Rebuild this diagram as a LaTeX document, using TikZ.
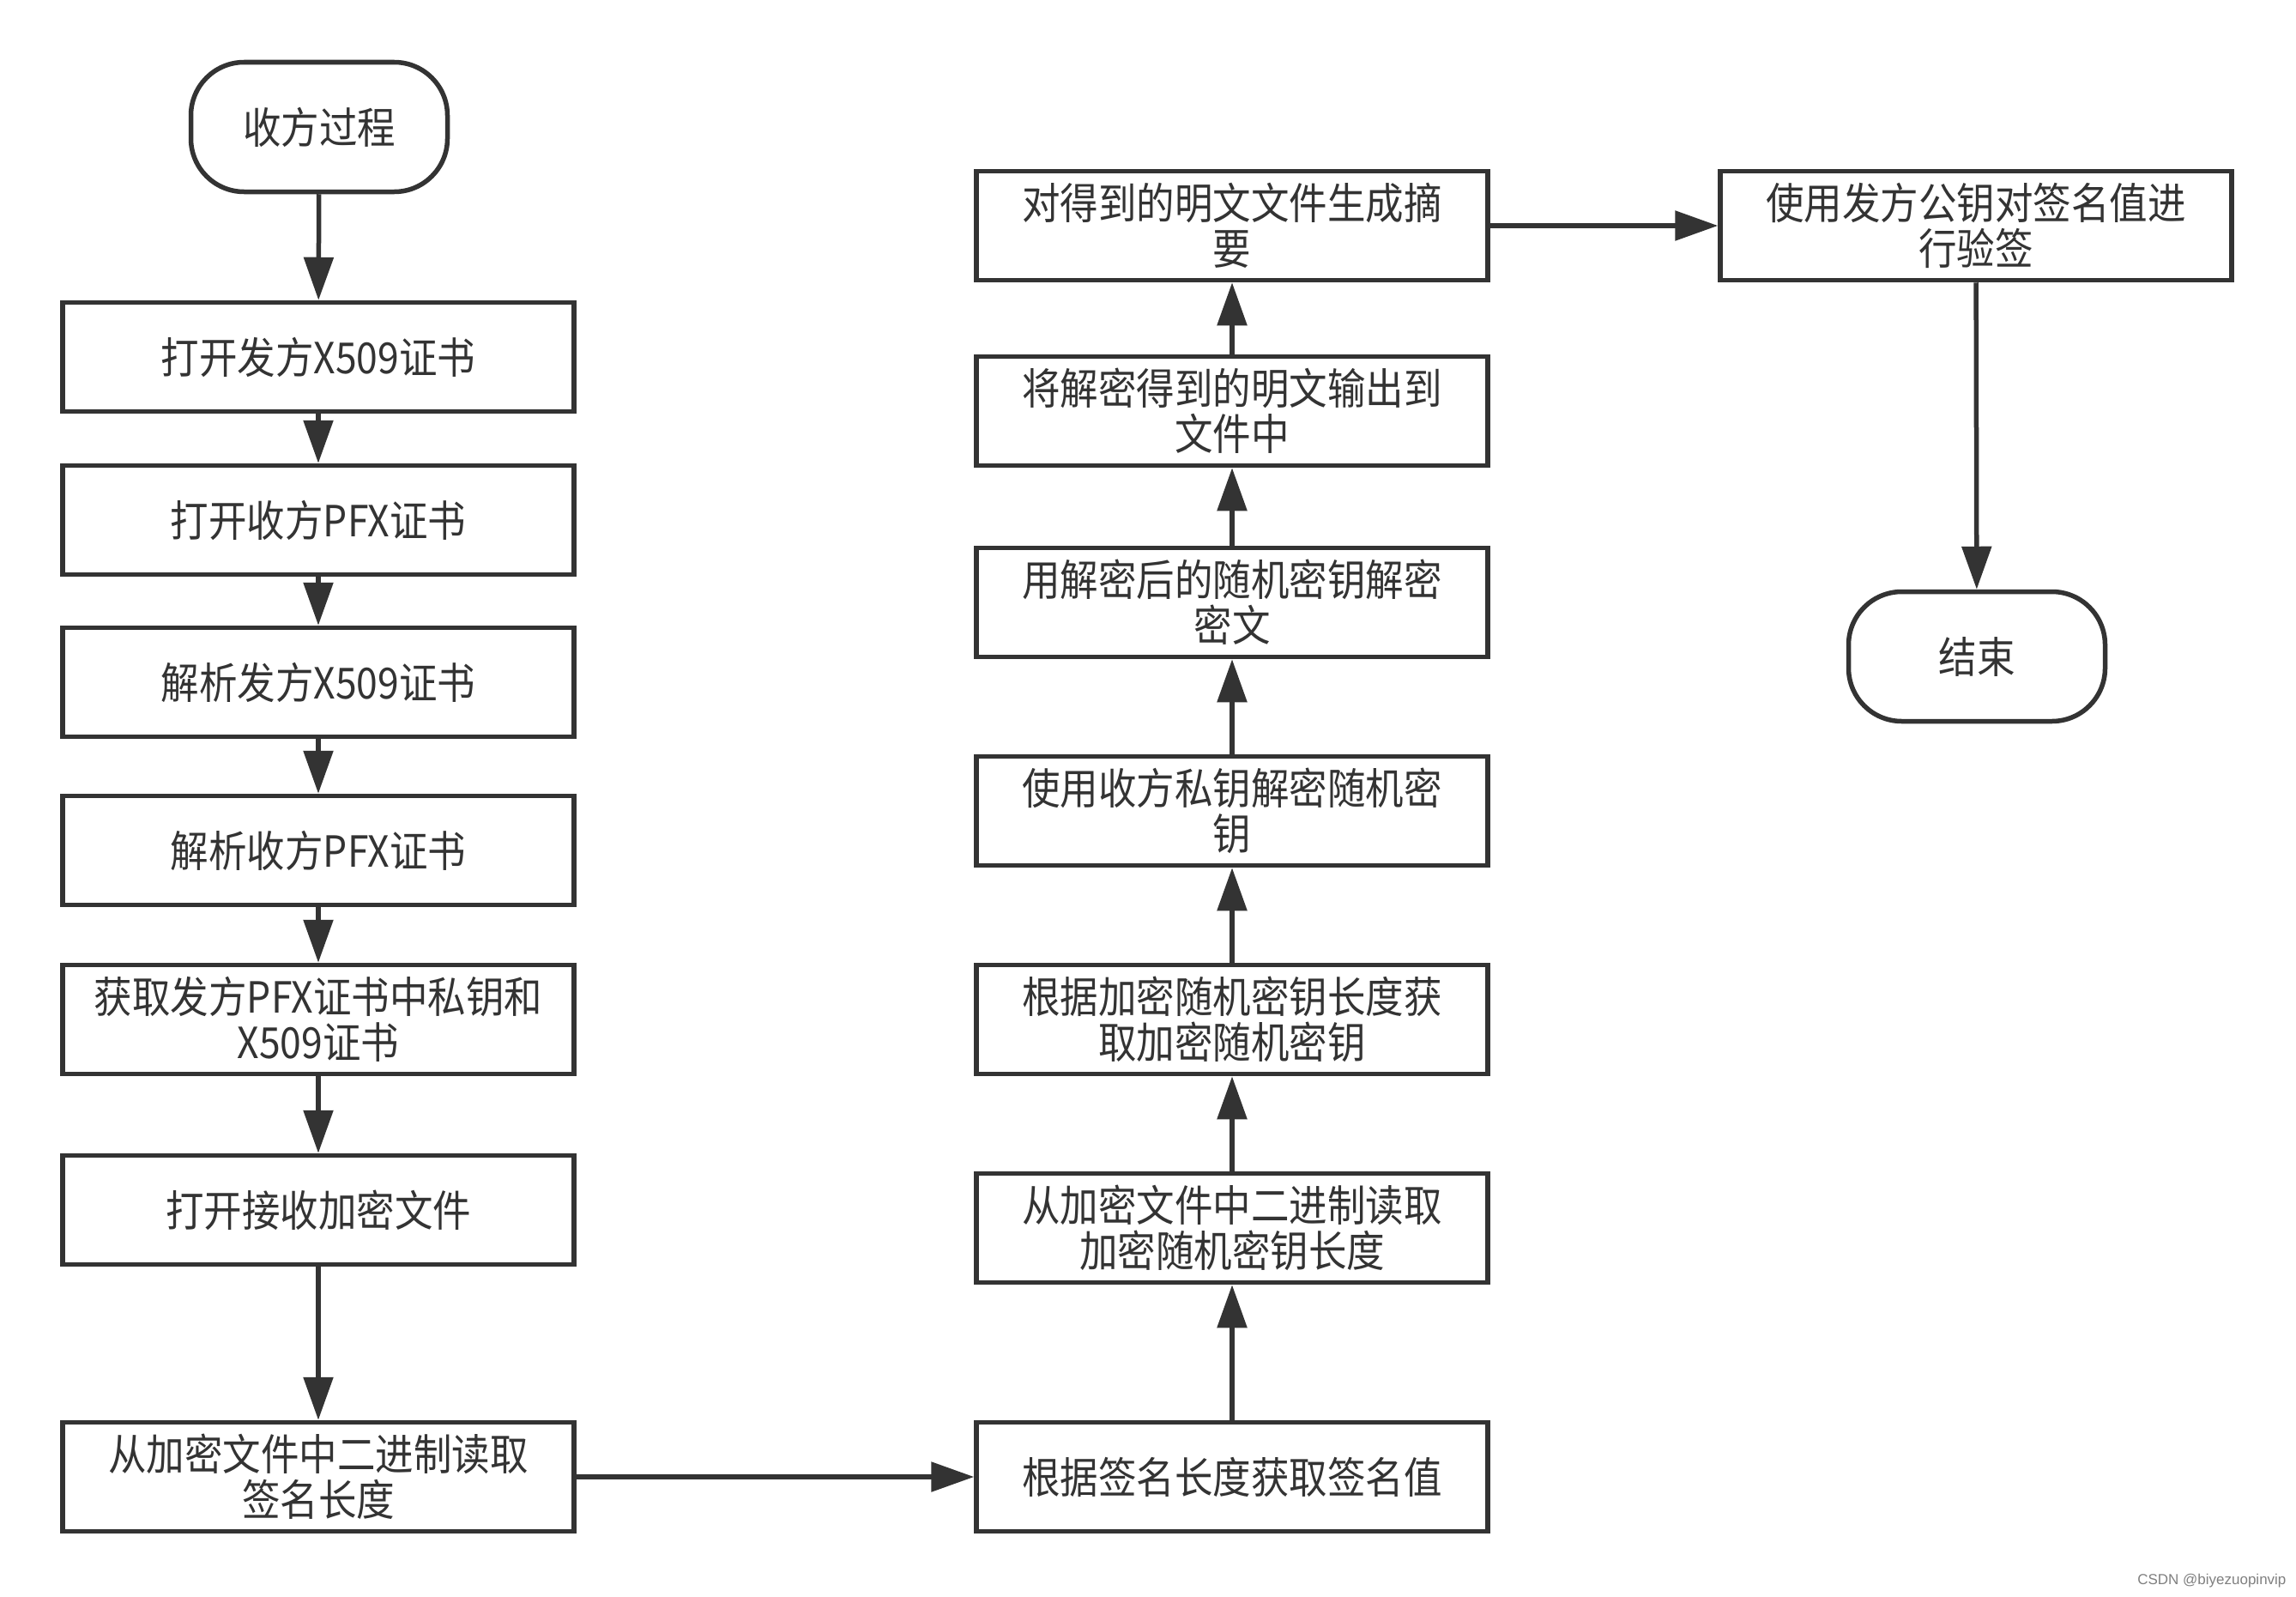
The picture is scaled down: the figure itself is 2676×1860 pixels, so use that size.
\documentclass[tikz,border=0pt]{standalone}
\usepackage{fontspec}
\newfontfamily\cjk[FakeStretch=0.89]{Noto Sans CJK SC}
\newfontfamily\wmfont{Liberation Sans}
\usetikzlibrary{arrows.meta}
\definecolor{ink}{HTML}{333333}
\tikzset{
  box/.style={draw=ink, line width=5.5pt, fill=white, minimum width=596pt, minimum height=127pt,
    inner sep=0pt, align=center, text=ink, font=\cjk\fontsize{50}{53}\selectfont},
  term/.style={box, minimum width=299pt, minimum height=151pt, rounded corners=62pt},
  flow/.style={draw=ink, line width=5.5pt, -{Triangle[length=50pt,width=34pt]}}
}
\begin{document}
\begin{tikzpicture}[x=1pt,y=-1pt]
\useasboundingbox[fill=white] (0,0) rectangle (2676,1860);
\node[term] (start) at (372,148) {收方过程};
\node[box] (b1) at (371,416) {打开发方X509证书};
\node[box] (b2) at (371,606) {打开收方PFX证书};
\node[box] (b3) at (371,795) {解析发方X509证书};
\node[box] (b4) at (371,991) {解析收方PFX证书};
\node[box] (b5) at (371,1188) {获取发方PFX证书中私钥和\\X509证书};
\node[box] (b6) at (371,1410) {打开接收加密文件};
\node[box] (b7) at (371,1721) {从加密文件中二进制读取\\签名长度};
\node[box] (m1) at (1436,1721) {根据签名长度获取签名值};
\node[box] (m2) at (1436,1431) {从加密文件中二进制读取\\加密随机密钥长度};
\node[box] (m3) at (1436,1188) {根据加密随机密钥长度获\\取加密随机密钥};
\node[box] (m4) at (1436,945) {使用收方私钥解密随机密\\钥};
\node[box] (m5) at (1436,702) {用解密后的随机密钥解密\\密文};
\node[box] (m6) at (1436,479) {将解密得到的明文输出到\\文件中};
\node[box] (m7) at (1436,263) {对得到的明文文件生成摘\\要};
\node[box] (r) at (2303,263) {使用发方公钥对签名值进\\行验签};
\node[term] (end) at (2304,765) {结束};
\node[anchor=east, text=gray, font=\wmfont\fontsize{17}{20}\selectfont] (wm) at (2668,1842) {CSDN @biyezuopinvip};
\draw[flow] (start) -- (b1);
\draw[flow] (b1) -- (b2);
\draw[flow] (b2) -- (b3);
\draw[flow] (b3) -- (b4);
\draw[flow] (b4) -- (b5);
\draw[flow] (b5) -- (b6);
\draw[flow] (b6) -- (b7);
\draw[flow] (b7) -- (m1);
\draw[flow] (m1) -- (m2);
\draw[flow] (m2) -- (m3);
\draw[flow] (m3) -- (m4);
\draw[flow] (m4) -- (m5);
\draw[flow] (m5) -- (m6);
\draw[flow] (m6) -- (m7);
\draw[flow] (m7) -- (r);
\draw[flow] (r) -- (end);
\end{tikzpicture}
\end{document}
